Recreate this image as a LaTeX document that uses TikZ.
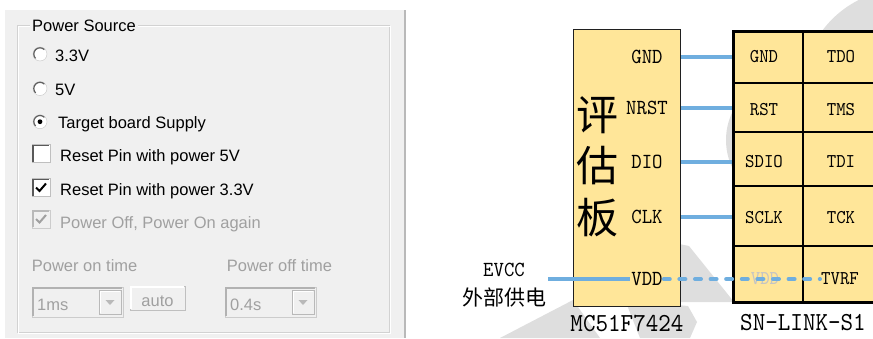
\documentclass[tikz,border=0pt]{standalone}
\usepackage{fontspec}
\setmainfont{Liberation Sans}
\newfontfamily\pinfont[FakeStretch=0.92]{lmmono10-regular.otf}
\newfontfamily\cjkfont{Noto Sans CJK SC}

\definecolor{panelgray}{HTML}{F0F0F0}
\definecolor{dimgray}{HTML}{A0A0A0}
\definecolor{ghostgray}{HTML}{C4C4C4}
\definecolor{chipfill}{HTML}{FFE699}
\definecolor{wireblue}{HTML}{6FAEDF}
\definecolor{markgray}{HTML}{DEDEDE}

\tikzset{
  guitext/.style={anchor=base west, inner sep=0pt, font=\fontsize{16.5}{20}\selectfont},
  dimtext/.style={guitext, text=dimgray},
  radio/.style={fill=white, draw=gray!45},
  radiodark/.style={draw=gray!75!black, line width=1.2pt},
  tickbox/.style={fill=white, draw=gray!50},
  pinlabel/.style={font=\pinfont\fontsize{21.5}{24}\selectfont, inner sep=1pt},
  celllabel/.style={font=\pinfont\fontsize{19.5}{22}\selectfont, inner sep=1pt},
  chipname/.style={font=\pinfont\fontsize{26}{28}\selectfont, inner sep=1pt},
  wire/.style={draw=wireblue, line width=4pt},
  dashwire/.style={wire, line cap=round, dash pattern=on 6pt off 9.6pt},
  cellline/.style={line width=1.6pt}
}

\begin{document}
\begin{tikzpicture}[x=1pt,y=-1pt]
  \clip (0,0) rectangle (873,338);
  %% watermark behind the wiring
  \fill[markgray] (905,92) circle (103);
  \fill[markgray] (790,140) circle (64);
  \fill[markgray] (660,240) -- (689,246) -- (734,302) -- (660,302) -- cycle;
  \fill[markgray] (625,300) -- (688,306) -- (697,322) -- (690,338) -- (640,338) -- cycle;
  \fill[markgray] (500,338) -- (573,300) -- (600,338) -- cycle;

  %% dialog panel
  \fill[panelgray] (5,10) rectangle (404,338);
  \draw[gray!55, line width=2pt] (405.3,10) -- (405.3,338);
  \draw[gray!35] (17,25) rectangle (389,332);
  \draw[white] (18,26) rectangle (390,333);
  \node[guitext, fill=panelgray, inner xsep=2pt] (title) at (30,31.7) {Power Source};
  %% radio buttons
  \foreach \n/\y/\x/\txt in {low/54/55/3.3V, high/88.5/55/5V, target/121.7/58/Target board Supply} {
    \draw[radio] (40,\y) circle (7);
    \draw[radiodark] (40,\y) ++(-45:6.2) arc[start angle=-45, end angle=-225, radius=6.2];
    \node[guitext] (radio\n) at (\x,\y+7) {\txt};
  }
  \fill (40,121.7) circle (2.4);
  %% check boxes
  \foreach \n/\y/\txt in {five/153.5/Reset Pin with power 5V, three/187.5/Reset Pin with power 3.3V} {
    \draw[tickbox] (32,\y-9) rectangle (50,\y+9);
    \draw[gray!70!black, line width=1.2pt] (33,\y+8) -- (33,\y-8) -- (49,\y-8);
    \node[guitext] (check\n) at (60,\y+7.5) {\txt};
  }
  \draw[line width=2pt] (36,187.5) -- (39.5,191) -- (46,183.5);
  \draw[fill=panelgray, draw=gray!40] (32,210) rectangle (50,228);
  \draw[gray!55, line width=1.2pt] (33,227) -- (33,211) -- (49,211);
  \draw[dimgray, line width=2pt] (36,219) -- (39.5,222.5) -- (46,215);
  \node[dimtext] (checkagain) at (60,228.3) {Power Off, Power On again};
  %% timing
  \node[dimtext] (ontime) at (31.7,271.7) {Power on time};
  \node[dimtext] (offtime) at (226.7,271.7) {Power off time};
  \foreach \n/\x/\val in {on/32/1ms, off/225/0.4s} {
    \draw[fill=panelgray, draw=gray!40] (\x,287) rectangle ++(91,30);
    \draw[gray!60, line width=1.5pt] (\x+1,316) -- (\x+1,288) -- (\x+90,288);
    \draw[fill=panelgray, draw=gray!55] (\x+67,290) rectangle ++(22,24);
    \draw[white, line width=1pt] (\x+68,313) -- (\x+68,291) -- (\x+88,291);
    \fill[gray!55] (\x+73.5,300) -- (\x+82.5,300) -- (\x+78,305) -- cycle;
    \node[dimtext] (combo\n) at (\x+5,310) {\val};
  }
  \draw[fill=panelgray, draw=gray!50] (130,286) rectangle (185,310);
  \draw[white, line width=1.5pt] (131,309) -- (131,287) -- (184,287);
  \node[dimtext, anchor=base] (auto) at (157.5,306) {auto};

  %% evaluation board
  \node[draw=gray!25!black, line width=0.8pt, fill=chipfill, minimum width=107pt,
        minimum height=277pt, anchor=north west, inner sep=0pt] (mcu) at (573.3,29.3) {};
  \node[font=\cjkfont\fontsize{42}{51.5}\selectfont, align=center, inner sep=0pt]
        (evalboard) at (597,166.5) {评\\估\\板};
  \foreach \p/\y in {GND/57, NRST/108, DIO/162, CLK/217, VDD/279}
    \node[pinlabel] (pin\p) at (647,\y) {\p};
  \node[chipname] (mcuname) at (627,323) {MC51F7424};

  %% debugger
  \node[draw, line width=3pt, fill=chipfill, minimum width=147pt, minimum height=271pt,
        anchor=north west, inner sep=0pt] (link) at (731.5,29.5) {};
  \draw[cellline] (803,31) -- (803,302);
  \foreach \y in {83,132,186,246}
    \draw[cellline] (733,\y) -- (880,\y);
  \foreach \n/\y/\pa/\pb in {gnd/57/GND/TDO, rst/110/RST/TMS, sdio/162/SDIO/TDI, sclk/218/SCLK/TCK} {
    \node[celllabel] (cell\n) at (764,\y) {\pa};
    \node[celllabel] (jtag\n) at (841,\y) {\pb};
  }
  \node[celllabel, text=ghostgray] (cellvdd) at (765,279) {VDD};
  \node[celllabel] (celltvrf) at (840,279) {TVRF};
  \node[chipname] (linkname) at (803,323) {SN-LINK-S1};

  %% wiring
  \foreach \p in {GND,NRST,DIO,CLK}
    \draw[wire] (mcu.east |- pin\p) -- (link.west |- pin\p);
  \node[pinlabel] (evcclabel) at (504,270) {EVCC};
  \node[font=\cjkfont\fontsize{21}{24}\selectfont, inner sep=0pt] (extsupply) at (504,297) {外部供电};
  \coordinate (evcc) at (548,279);
  \draw[wire] (evcc) -- (pinVDD.west);
  \draw[dashwire] (pinVDD.east) -- (celltvrf.west);
\end{tikzpicture}
\end{document}
